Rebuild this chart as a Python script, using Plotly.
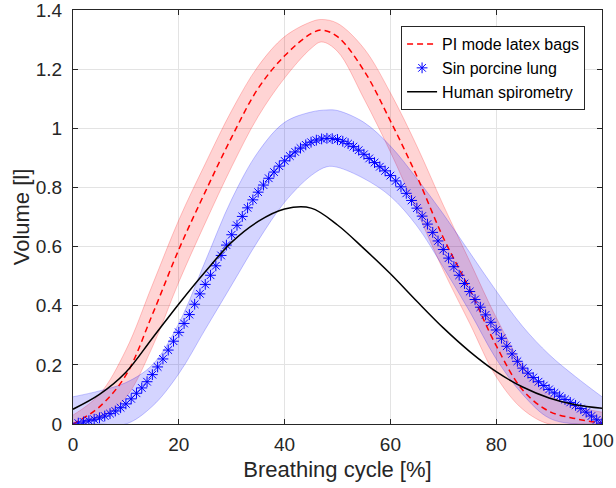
import plotly.graph_objects as go

# ---------------- data ----------------
x5 = [0, 5, 10, 15, 20, 25, 30, 35, 40, 45, 50, 55, 60, 65, 70, 75, 80, 85, 90, 95, 100]

# PI mode latex bags (mean, upper, lower)
red_x = [0, 5, 10, 15, 20, 25, 30, 35, 40, 45, 47, 50, 55, 60, 65, 70, 75, 80, 85, 90, 95, 100]
red_mean = [0.0, 0.058, 0.165, 0.37, 0.59, 0.785, 0.97, 1.135, 1.245, 1.32, 1.332, 1.31, 1.195,
            1.025, 0.838, 0.63, 0.455, 0.265, 0.115, 0.043, 0.018, 0.003]
red_upper = [0.03, 0.10, 0.25, 0.47, 0.69, 0.88, 1.06, 1.21, 1.31, 1.36, 1.368, 1.355, 1.27,
             1.12, 0.94, 0.74, 0.55, 0.36, 0.20, 0.10, 0.06, 0.04]
red_lower = [0.0, 0.02, 0.09, 0.26, 0.48, 0.68, 0.87, 1.04, 1.17, 1.27, 1.292, 1.26, 1.10,
             0.92, 0.72, 0.52, 0.34, 0.16, 0.05, 0.0, 0.0, 0.0]

# Sin porcine lung
blue_x = list(range(1, 101))
blue_mean = [0.003, 0.007, 0.011, 0.016, 0.021, 0.027, 0.035, 0.044, 0.055,
             0.068, 0.085, 0.104, 0.122, 0.143, 0.167, 0.193, 0.220, 0.250, 0.280,
             0.310, 0.340, 0.370, 0.405, 0.440, 0.472, 0.503, 0.535, 0.570, 0.605,
             0.640, 0.672, 0.702, 0.731, 0.758, 0.784, 0.808, 0.831, 0.852, 0.872,
             0.890, 0.906, 0.920, 0.933, 0.944, 0.953, 0.960, 0.964, 0.966, 0.965,
             0.962, 0.956, 0.948, 0.938, 0.926, 0.912, 0.898, 0.884, 0.870, 0.856,
             0.840, 0.822, 0.802, 0.780, 0.756, 0.730, 0.703, 0.676, 0.648, 0.619,
             0.590, 0.561, 0.532, 0.503, 0.475, 0.448, 0.421, 0.395, 0.369, 0.344,
             0.318, 0.290, 0.263, 0.237, 0.212, 0.189, 0.172, 0.157, 0.143, 0.130,
             0.117, 0.105, 0.094, 0.083, 0.073, 0.063, 0.052, 0.040, 0.027, 0.014,
             0.003]
blue_band_x = [0, 5, 10, 15, 20, 25, 30, 35, 40, 45, 48, 50, 55, 60, 65, 70, 75, 80, 85, 90, 95, 100]
blue_upper = [0.092, 0.112, 0.14, 0.20, 0.34, 0.55, 0.76, 0.92, 1.02, 1.055, 1.062, 1.06, 1.02,
              0.94, 0.83, 0.71, 0.58, 0.45, 0.33, 0.235, 0.16, 0.092]
blue_lower = [0.0, 0.0, 0.0, 0.06, 0.17, 0.32, 0.47, 0.62, 0.75, 0.84, 0.87, 0.868, 0.83,
              0.77, 0.67, 0.53, 0.38, 0.22, 0.10, 0.02, 0.0, 0.0]

# Human spirometry
human = [0.05, 0.10, 0.175, 0.29, 0.406, 0.515, 0.615, 0.685, 0.727, 0.73, 0.673, 0.593,
         0.508, 0.415, 0.325, 0.245, 0.177, 0.125, 0.088, 0.065, 0.053]

x_ticks = [0, 20, 40, 60, 80, 100]
x_ticktext = ["0", "20", "40", "60", "80", ""]   # last label drawn as annotation (kept inside page)
x_last_label = "100"
y_ticks = [0, 0.2, 0.4, 0.6, 0.8, 1, 1.2, 1.4]
y_ticktext = ["0", "0.2", "0.4", "0.6", "0.8", "1", "1.2", "1.4"]

FONT = "Liberation Sans, Arial, Helvetica, sans-serif"
TXT = "#262626"

fig = go.Figure()

# red band
fig.add_trace(go.Scatter(x=red_x, y=red_lower, mode="lines", line=dict(color="rgba(255,0,0,0.22)", width=1, shape="spline"),
                         showlegend=False, hoverinfo="skip"))
fig.add_trace(go.Scatter(x=red_x, y=red_upper, mode="lines", line=dict(color="rgba(255,0,0,0.22)", width=1, shape="spline"),
                         fill="tonexty", fillcolor="rgba(255,0,0,0.17)", showlegend=False, hoverinfo="skip"))
# blue band
fig.add_trace(go.Scatter(x=blue_band_x, y=blue_lower, mode="lines", line=dict(color="rgba(0,0,255,0.22)", width=1, shape="spline"),
                         showlegend=False, hoverinfo="skip"))
fig.add_trace(go.Scatter(x=blue_band_x, y=blue_upper, mode="lines", line=dict(color="rgba(0,0,255,0.22)", width=1, shape="spline"),
                         fill="tonexty", fillcolor="rgba(0,0,255,0.17)", showlegend=False, hoverinfo="skip"))

fig.add_trace(go.Scatter(x=red_x, y=red_mean, mode="lines", name="PI mode latex bags",
                         line=dict(color="#FF0000", width=1.5, dash="6px,4px", shape="spline")))
fig.add_trace(go.Scatter(x=blue_x, y=blue_mean, mode="markers", name="Sin porcine lung",
                         marker=dict(symbol="asterisk-open", size=9, color="#0000FF",
                                     line=dict(color="#0000FF", width=1))))
fig.add_trace(go.Scatter(x=x5, y=human, mode="lines", name="Human spirometry",
                         line=dict(color="#000000", width=1.5, shape="spline")))

axis_common = dict(showgrid=True, gridcolor="#E3E3E3", gridwidth=1, zeroline=False,
                   showline=True, linecolor=TXT, linewidth=1, mirror="ticks",
                   ticks="inside", ticklen=5, tickcolor=TXT, automargin=False,
                   ticklabeloverflow="allow",
                   tickfont=dict(family=FONT, size=19, color=TXT))

fig.update_xaxes(range=[0, 100.0001], tickmode="array", tickvals=x_ticks, ticktext=x_ticktext,
                 title=dict(text="Breathing cycle [%]", font=dict(family=FONT, size=22, color=TXT), standoff=7),
                 ticklabelstandoff=3, **axis_common)
fig.update_yaxes(range=[0, 1.40001], tickmode="array", tickvals=y_ticks, ticktext=y_ticktext,
                 title=dict(text="Volume [l]", font=dict(family=FONT, size=22, color=TXT), standoff=0),
                 ticklabelstandoff=6, **axis_common)

fig.add_annotation(x=x_ticks[-1], xref="x", y=0, yref="paper", text=x_last_label,
                   showarrow=False, xanchor="center", yanchor="top", xshift=-4, yshift=-4,
                   font=dict(family=FONT, size=19, color=TXT))

fig.update_layout(
    width=616, height=488,
    margin=dict(l=73, r=14, t=10, b=64),
    paper_bgcolor="white", plot_bgcolor="white",
    font=dict(family=FONT, color=TXT),
    legend=dict(x=0.968, y=0.961, xanchor="right", yanchor="top", traceorder="normal",
                bgcolor="white", bordercolor=TXT, borderwidth=1,
                font=dict(family=FONT, size=16, color="#000000"),
                tracegroupgap=0, itemwidth=30),
)

fig.write_html("out.html")
